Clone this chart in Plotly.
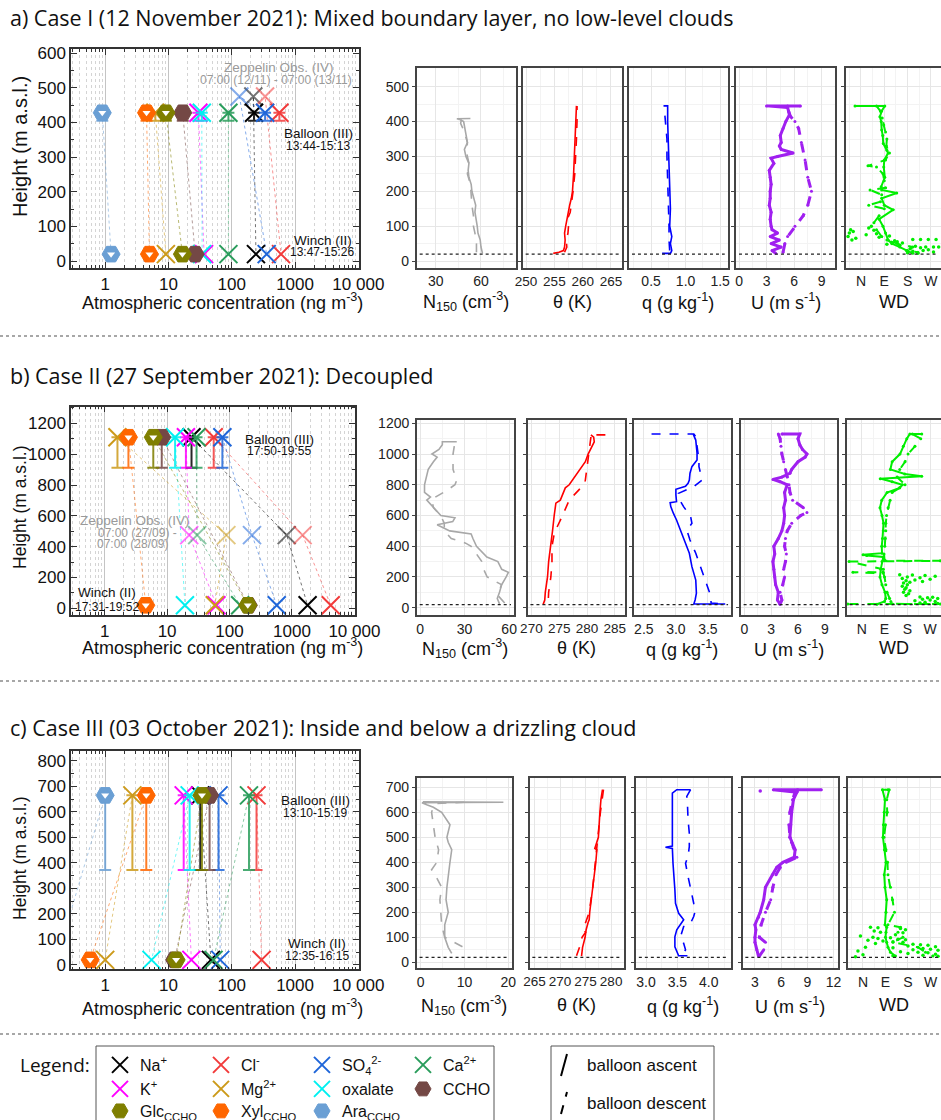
import plotly.graph_objects as go

FIG_W, FIG_H = 941, 1120
SANS = "Liberation Sans, Arial, sans-serif"
HEAD = "Open Sans, sans-serif"


def fx(p):
    return p / FIG_W


def fy(p):
    return 1 - p / FIG_H


def rgba(hex_color, a):
    h = hex_color.lstrip("#")
    r, g, b = int(h[0:2], 16), int(h[2:4], 16), int(h[4:6], 16)
    return f"rgba({r},{g},{b},{a})"


# ---------------- aerosol species ----------------
species = ["Na", "Cl", "SO4", "Ca", "K", "Mg", "oxalate", "CCHO", "Glc", "Xyl", "Ara"]
species_label = ["Na<sup>+</sup>", "Cl<sup>-</sup>", "SO<sub>4</sub><sup>2-</sup>", "Ca<sup>2+</sup>",
                 "K<sup>+</sup>", "Mg<sup>2+</sup>", "oxalate", "CCHO",
                 "Glc<sub>CCHO</sub>", "Xyl<sub>CCHO</sub>", "Ara<sub>CCHO</sub>"]
species_color = ["#000000", "#f23b3b", "#1f66d9", "#2a9d5c", "#ff00ff", "#cc9a1a",
                 "#00f0f0", "#744845", "#7f7f00", "#ff6600", "#6a9fd4"]
species_shape = ["x", "x", "x", "x", "x", "x", "x", "hex", "cup", "cup", "cup"]
legend_slot = ["legend", "legend", "legend", "legend", "legend2", "legend2", "legend2", "legend2",
               "legend3", "legend3", "legend3"]

# ---------------- concentrations (ng m-3), same order as species ----------------
case1_balloon = [225, 565, 336, 88.5, 29.7, 6.2, 33.6, 16.8, 9.1, 4.5, 0.9]
case1_winch = [241, 600, 356, 88.5, 36.5, 9.1, 34, 26.4, 16.6, 5.0, 1.24]
case1_zeppelin = [219, 336, 132, None, None, None, None, None, None, None, None]

case2_balloon = [24.6, 55.8, 76.8, 29.6, 20, 1.6, 13.4, 8.2, 6.0, 2.4, None]
case2_winch = [1780, 4180, 570, 148, 61.6, 58, 19.3, 200, 196, 4.55, None]
case2_zeppelin = [824, 1480, 229, 30.3, 22.6, 89, None, None, None, None, None]

case3_balloon = [31.8, 246, 61.8, 187, 17.4, 2.69, 21.6, 44.6, 33.8, 4.46, 1.0]
case3_winch = [46.8, 296, 65.7, 51.5, 23, 1.0, 5.4, 12.5, 13.2, 0.58, 0.17]
case3_zeppelin = [None] * 11

# sampling altitudes (m a.s.l.)
balloon_alt = [428, 1110, 665]
balloon_alt_low = [405, 912, 372]
zeppelin_alt = [475, 475, None]
winch_alt = 20

# ---------------- Case I profiles ----------------
n150_a_up_z = [22, 40, 60, 80, 100, 120, 140, 160, 180, 200, 220, 240, 260, 280, 300, 320, 340, 360, 380, 400, 406, 408, 409]
n150_a_up = [61, 60, 59.5, 58, 57.5, 57, 56, 56.5, 55, 54, 53.5, 52, 51.5, 52, 50, 49, 51, 50, 49.5, 48.5, 46, 44, 53]
n150_a_dn_z = [25, 50, 80, 100, 130, 160, 190, 220, 250, 280, 310, 340, 370, 395, 405]
n150_a_dn = [57, 57, 56, 55, 55, 54, 53.5, 53, 51, 52, 50.5, 51, 49, 46.5, 47]

theta_a_up_z = [22, 25, 30, 40, 60, 80, 100, 120, 140, 160, 180, 200, 250, 300, 350, 400, 445]
theta_a_up = [254.8, 255.8, 256.6, 256.8, 256.9, 256.8, 257.0, 257.2, 257.4, 257.7, 258.0, 258.2, 258.4, 258.5, 258.6, 258.7, 258.9]
theta_a_dn_z = [25, 40, 60, 80, 100, 120, 140, 160, 180, 200, 250, 300, 350, 400, 445]
theta_a_dn = [256.8, 257.2, 257.1, 257.4, 257.5, 257.3, 257.8, 258.0, 258.1, 258.3, 258.6, 258.8, 258.9, 259.0, 259.0]

q_a_up_z = [22, 22, 30, 50, 70, 100, 150, 200, 250, 300, 350, 400, 440, 445, 445]
q_a_up = [0.66, 0.78, 0.80, 0.78, 0.80, 0.77, 0.78, 0.77, 0.77, 0.76, 0.75, 0.74, 0.74, 0.74, 0.68]
q_a_dn_z = [30, 60, 100, 150, 200, 250, 300, 350, 400, 440]
q_a_dn = [0.77, 0.76, 0.76, 0.75, 0.74, 0.74, 0.73, 0.73, 0.71, 0.69]

u_a_up_z = [22, 30, 40, 50, 60, 70, 80, 90, 100, 120, 140, 160, 180, 200, 220, 240, 260, 280, 295, 300, 310, 320, 330, 340, 360, 380, 400, 420, 440, 445, 445]
u_a_up = [4.0, 3.6, 4.6, 3.5, 4.4, 3.4, 4.2, 3.6, 3.5, 3.4, 3.5, 3.3, 3.4, 3.4, 3.5, 3.4, 3.3, 3.8, 3.5, 4.2, 5.9, 4.6, 4.4, 4.6, 4.5, 4.8, 5.1, 5.5, 5.3, 3.0, 6.7]
u_a_dn_z = [25, 50, 70, 100, 130, 160, 200, 240, 290, 340, 380, 400, 415, 430, 445]
u_a_dn = [4.8, 5.0, 5.3, 6.1, 7.0, 7.5, 7.9, 7.5, 7.2, 6.8, 6.5, 6.1, 5.6, 5.4, 5.3]

wd_a_up_z = [22, 30, 40, 50, 60, 80, 100, 120, 147, 160, 180, 195, 204, 213, 240, 270, 290, 310, 318, 337, 360, 376, 400, 414, 430, 445, 445]
wd_a_up = [200, 175, 150, 120, 105, 95, 85, 70, 124, 90, 80, 138, 80, 78, 92, 88, 90, 105, 100, 86, 84, 80, 78, 73, 80, 92, -23]
wd_a_dn_z = [445, 430, 410, 390, 370, 350, 330, 310, 290, 273, 270, 250, 230, 210, 204, 190, 170, 160, 150, 130, 110, 90, 70, 60, 50, 40, 30, 25]
wd_a_dn = [60, 75, 82, 88, 95, 100, 98, 110, 95, 27, 60, 85, 90, 95, 35, 80, 75, 30, 90, 70, 50, 60, 80, 100, 140, 200, 180, 220]
wd_a_pts_z = [100, 95, 90, 88, 85, 80, 78, 75, 72, 70, 68, 65, 62, 62, 62, 62, 60, 58, 55, 52, 50, 48, 45, 42, 40, 40, 40, 38, 35, 32, 30, 28, 26, 24, 22]
wd_a_pts = [40, 30, -40, 50, -30, -45, 60, 20, 110, -50, 70, -20, 200, 230, 260, 290, -35, 130, 140, 160, 120, 100, 150, 210, 250, 280, 300, 230, 190, 260, 240, 200, 280, 180, 220]

# ---------------- Case II profiles ----------------
n150_b_up_z = [25, 60, 100, 150, 200, 230, 250, 300, 330, 350, 400, 450, 480, 500, 540, 560, 585, 600, 650, 700, 720, 750, 800, 850, 900, 950, 980, 1000, 1030, 1060, 1080, 1080]
n150_b_up = [53.5, 52, 53.5, 55, 58, 59.5, 55, 52.4, 45, 43, 38, 35.6, 34.4, 20, 11.5, 22, 23.5, 14, 9, 4.5, 7, 3, 3, 4.5, 5.5, 9, 11.5, 8, 12.7, 15, 15, 24.7]
n150_b_dn_z = [30, 80, 150, 200, 250, 300, 350, 400, 420, 450, 500, 550, 600, 650, 700, 720, 760, 800, 830, 900, 1000, 1080]
n150_b_dn = [57, 52.4, 54.8, 45.2, 42.8, 41.6, 38, 34.4, 30.7, 21, 16.3, 16.3, 13.9, 9.1, 7.8, 10.3, 17.5, 23.5, 24.7, 22.2, 22.2, 23.5]

theta_b_up_z = [20, 50, 100, 200, 300, 400, 500, 600, 680, 700, 760, 780, 800, 850, 900, 950, 1000, 1050, 1080, 1110, 1125]
theta_b_up = [272.1, 272.4, 272.5, 272.9, 273.1, 273.5, 273.8, 274.1, 274.4, 275.2, 275.9, 276.1, 276.8, 277.8, 278.7, 279.7, 280.2, 280.9, 281.3, 281.2, 280.7]
theta_b_dn_z = [1125, 1125, 1110, 1000, 900, 830, 800, 750, 700, 600, 550, 500, 480, 400, 300, 200, 100, 25]
theta_b_dn = [283.3, 280.5, 280.7, 280.3, 279.9, 279.7, 279.4, 278.1, 276.8, 275.6, 274.9, 274.3, 274.1, 273.7, 273.7, 273.5, 273.1, 273.0]

q_b_up_z = [24, 24, 50, 94, 180, 267, 354, 397, 462, 527, 571, 615, 658, 684, 690, 734, 771, 790, 810, 831, 875, 918, 961, 1005, 1048, 1091, 1130]
q_b_up = [3.77, 3.28, 3.30, 3.32, 3.31, 3.25, 3.21, 3.17, 3.12, 3.06, 3.01, 2.96, 2.92, 2.91, 3.01, 3.0, 3.0, 3.15, 3.19, 3.21, 3.22, 3.25, 3.33, 3.33, 3.32, 3.31, 3.27]
q_b_dn_z = [1130, 1130, 1113, 1048, 961, 918, 875, 831, 788, 744, 701, 658, 593, 549, 505, 440, 354, 267, 180, 82, 30, 24]
q_b_dn = [2.62, 3.28, 3.31, 3.33, 3.36, 3.36, 3.38, 3.41, 3.28, 3.04, 3.06, 3.12, 3.23, 3.25, 3.17, 3.22, 3.31, 3.38, 3.46, 3.54, 3.55, 3.77]

u_b_up_z = [22, 50, 100, 150, 200, 250, 300, 350, 400, 450, 500, 550, 600, 650, 700, 750, 800, 820, 835, 850, 875, 900, 950, 980, 1000, 1030, 1060, 1100, 1130, 1130]
u_b_up = [4.0, 3.7, 3.8, 3.5, 3.4, 3.3, 3.2, 3.4, 3.3, 3.8, 4.2, 4.4, 4.5, 4.4, 4.6, 4.5, 4.8, 4.0, 3.2, 4.2, 5.1, 5.3, 6.0, 6.8, 7.0, 6.5, 6.2, 6.0, 6.2, 4.2]
u_b_dn_z = [1130, 1100, 1050, 1000, 950, 900, 850, 800, 750, 700, 650, 620, 600, 550, 500, 450, 400, 350, 300, 250, 200, 150, 100, 50, 22]
u_b_dn = [3.8, 4.0, 4.1, 4.2, 4.4, 4.6, 4.8, 5.0, 5.1, 5.4, 6.6, 7.0, 6.3, 5.3, 4.8, 4.6, 4.5, 4.7, 4.6, 4.4, 4.5, 4.3, 4.0, 4.2, 4.0]

wd_b_up_z = [22, 40, 60, 100, 150, 200, 250, 300, 330, 340, 345, 355, 400, 450, 500, 550, 600, 650, 700, 750, 780, 800, 820, 840, 855, 870, 900, 950, 1000, 1050, 1100, 1130, 1130]
wd_b_up = [60, 90, 95, 92, 80, 72, 75, 80, 85, 20, 5, 80, 79, 82, 85, 86, 80, 72, 79, 100, 150, 160, 120, 73, 237, 170, 113, 120, 151, 164, 178, 190, 237]
wd_b_dn_z = [1130, 1100, 1050, 1000, 950, 900, 850, 800, 780, 750, 700, 650, 600, 550, 500, 450, 400, 350, 310, 305, 305, 300, 250, 232, 230, 230, 225, 200, 150, 100, 60, 40, 25, 24, 24]
wd_b_dn = [200, 233, 210, 183, 171, 150, 140, 171, 150, 120, 112, 104, 98, 95, 95, 93, 91, 88, 90, 90, 310, -50, 85, 84, 84, -35, 85, 90, 95, 100, 110, 115, 120, 310, -55]
wd_b_pts_z = [215, 212, 210, 205, 200, 195, 190, 185, 180, 175, 170, 165, 160, 150, 140, 130, 120, 110, 100, 90, 80, 70, 68, 65, 60, 55, 50, 45, 40, 35, 30, 28]
wd_b_pts = [150, 200, 250, 290, 180, 230, 160, 270, 210, 175, 240, 190, 165, 180, 160, 175, 170, 190, 165, 185, 175, 230, 280, 260, 300, 240, 270, 210, 290, 250, 230, 300]

# ---------------- Case III profiles ----------------
n150_c_up_z = [36, 60, 100, 150, 200, 250, 300, 350, 400, 450, 480, 500, 550, 600, 620, 630, 638, 640, 642]
n150_c_up = [7.1, 6.3, 5.5, 5.5, 6.3, 5.8, 6.0, 6.3, 6.7, 7.1, 6.3, 6.0, 6.7, 4.8, 2.9, 1.4, 0.3, 18.9, 0.5]
n150_c_dn_z = [640, 635, 620, 600, 550, 500, 450, 400, 370, 350, 300, 250, 200, 150, 100, 93, 58]
n150_c_dn = [10, 3.7, 2.9, 2.5, 2.9, 3.3, 4.1, 3.7, 2.5, 3.3, 4.8, 4.4, 4.6, 4.8, 5.5, 6.3, 10.0]

theta_c_up_z = [25, 60, 100, 130, 160, 170, 200, 250, 300, 350, 400, 450, 455, 500, 550, 600, 650, 690]
theta_c_up = [274.2, 274.4, 274.9, 275.1, 275.5, 275.7, 275.8, 276.1, 276.5, 276.7, 277.0, 277.2, 276.8, 277.5, 277.6, 277.8, 278.0, 278.3]
theta_c_dn_z = [690, 650, 600, 500, 400, 300, 200, 130, 120, 100, 60, 25]
theta_c_dn = [278.5, 278.2, 277.9, 277.4, 276.9, 276.4, 275.7, 274.5, 275.0, 274.3, 273.8, 273.2]

q_c_up_z = [26, 26, 62, 102, 130, 170, 196, 236, 290, 343, 396, 455, 460, 465, 516, 583, 636, 676, 690, 690]
q_c_up = [3.66, 3.52, 3.46, 3.46, 3.49, 3.60, 3.52, 3.47, 3.46, 3.44, 3.43, 3.42, 3.31, 3.42, 3.42, 3.42, 3.41, 3.42, 3.49, 3.71]
q_c_dn_z = [690, 663, 636, 570, 516, 463, 423, 396, 343, 290, 236, 210, 183, 156, 143, 102, 76, 50, 30]
q_c_dn = [3.71, 3.65, 3.66, 3.67, 3.69, 3.69, 3.67, 3.63, 3.67, 3.71, 3.76, 3.79, 3.76, 3.71, 3.6, 3.55, 3.6, 3.63, 3.58]

u_c_up_z = [25, 50, 80, 100, 130, 150, 180, 200, 250, 300, 350, 380, 400, 420, 450, 480, 500, 550, 600, 650, 680, 690, 690]
u_c_up = [3.4, 3.2, 3.0, 3.0, 3.1, 3.0, 3.4, 3.6, 4.0, 4.2, 5.0, 5.5, 6.2, 7.5, 7.6, 7.2, 7.0, 7.1, 7.2, 7.4, 7.8, 5.1, 10.6]
u_c_dn_z = [690, 680, 650, 600, 550, 500, 460, 420, 400, 380, 350, 300, 250, 200, 150, 100, 80, 50, 25]
u_c_dn = [7.9, 7.6, 7.3, 7.0, 6.9, 7.0, 7.4, 7.8, 6.6, 5.9, 5.4, 5.05, 4.8, 4.2, 3.7, 3.5, 4.2, 4.0, 3.5]
u_c_pts_z = [685]
u_c_pts = [3.6]

wd_c_up_z = [25, 40, 60, 80, 100, 120, 140, 150, 200, 250, 300, 350, 400, 450, 500, 550, 600, 650, 690, 690]
wd_c_up = [130, 110, 100, 95, 90, 92, 95, 88, 92, 95, 88, 85, 92, 86, 80, 82, 85, 88, 78, 100]
wd_c_dn_z = [690, 650, 600, 550, 500, 450, 400, 350, 300, 250, 200, 150, 140, 120, 100, 80, 60, 40, 25]
wd_c_dn = [105, 95, 97, 90, 84, 92, 98, 100, 110, 118, 126, 100, 150, 140, 160, 120, 220, 250, 280]
wd_c_pts_z = [140, 138, 135, 130, 125, 120, 118, 110, 105, 100, 98, 95, 92, 90, 88, 85, 82, 80, 75, 72, 70, 68, 65, 62, 60, 58, 55, 52, 50, 48, 45, 42, 40, 38, 35, 32, 30, 28, 26, 24, 22]
wd_c_pts = [30, 60, 150, 170, 45, 70, 160, 130, -10, 40, 110, 60, 140, 170, 20, 80, 120, 160, 50, 200, 230, 260, 180, 290, 10, 120, 240, 270, 200, 300, -20, 150, 220, 260, 180, 290, 0, 240, 120, 300, -30]

fig = go.Figure()
layout = {}


# ---------------- concentration panels ----------------
def conc_panel(ax, balloon, winch, zeppelin, row):
    xa, ya = ("x", "y") if ax == 1 else (f"x{ax}", f"y{ax}")
    hb, hl, hz = balloon_alt[row], balloon_alt_low[row], zeppelin_alt[row]
    # dotted links balloon -> zeppelin -> winch
    for i, c in enumerate(species_color):
        xs, ys = [], []
        if balloon[i] is not None:
            xs.append(balloon[i]); ys.append(hb)
        if zeppelin[i] is not None:
            xs.append(zeppelin[i]); ys.append(hz)
        if winch[i] is not None:
            xs.append(winch[i]); ys.append(winch_alt)
        if len(xs) > 1:
            fig.add_trace(go.Scatter(x=xs, y=ys, mode="lines", xaxis=xa, yaxis=ya,
                                     line=dict(color=rgba(c, 0.55), width=1, dash="dot"),
                                     showlegend=False, hoverinfo="skip"))

    def mk(i, alpha):
        c = rgba(species_color[i], alpha)
        if species_shape[i] == "x":
            return dict(symbol="x-thin", size=18, line=dict(width=2, color=c))
        return dict(symbol="hexagon2", size=18, color=c, line=dict(width=1, color=c))

    notch = dict(symbol="triangle-down", size=7, color="white")

    for i in range(len(species)):
        if zeppelin[i] is not None:
            fig.add_trace(go.Scatter(x=[zeppelin[i]], y=[hz], mode="markers", xaxis=xa, yaxis=ya,
                                     marker=mk(i, 0.55), showlegend=False, hoverinfo="skip"))
    for i in range(len(species)):
        if winch[i] is not None:
            fig.add_trace(go.Scatter(x=[winch[i]], y=[winch_alt], mode="markers", xaxis=xa, yaxis=ya,
                                     marker=mk(i, 1), showlegend=False, hoverinfo="skip"))
            if species_shape[i] == "cup":
                fig.add_trace(go.Scatter(x=[winch[i]], y=[winch_alt], mode="markers", xaxis=xa, yaxis=ya,
                                         marker=notch, showlegend=False, hoverinfo="skip"))
    for i in range(len(species)):
        if balloon[i] is None:
            continue
        c = species_color[i]
        fig.add_trace(go.Scatter(
            x=[balloon[i]], y=[hb], mode="markers", xaxis=xa, yaxis=ya,
            marker=mk(i, 1), name=species_label[i],
            error_y=dict(type="data", symmetric=False, array=[0], arrayminus=[hb - hl],
                         color=rgba(c, 0.85), thickness=2, width=6),
            showlegend=(row == 0), legend=legend_slot[i], hoverinfo="skip"))
        if species_shape[i] == "cup":
            fig.add_trace(go.Scatter(x=[balloon[i]], y=[hb], mode="markers", xaxis=xa, yaxis=ya,
                                     marker=notch, showlegend=False, hoverinfo="skip"))


def conc_axes(ax, xdom, ydom, yrange, ydtick, yminor, yfont):
    xk, yk = ("xaxis", "yaxis") if ax == 1 else (f"xaxis{ax}", f"yaxis{ax}")
    anchor_x, anchor_y = ("y", "x") if ax == 1 else (f"y{ax}", f"x{ax}")
    layout[xk] = dict(type="log", domain=[fx(xdom[0]), fx(xdom[1])], range=[-0.54, 4.01], anchor=anchor_x,
                      dtick=1, tick0=0, exponentformat="none", tickangle=0,
                      ticks="inside", ticklen=6, tickcolor="#333", showline=True, linecolor="#333",
                      linewidth=1.5, mirror="allticks", showgrid=True, gridcolor="#c4c4c4", gridwidth=1.2,
                      zeroline=False,
                      minor=dict(dtick="D1", ticks="inside", ticklen=3, tickcolor="#333", showgrid=True,
                                 gridcolor="#d4d4d4", griddash="dot", gridwidth=1),
                      tickfont=dict(family=SANS, size=17, color="#111"))
    layout[yk] = dict(domain=[fy(ydom[1]), fy(ydom[0])], range=yrange, anchor=anchor_y, dtick=ydtick,
                      ticks="inside", ticklen=6, tickcolor="#333", showline=True, linecolor="#333",
                      linewidth=1.5, mirror="allticks", showgrid=False, zeroline=False,
                      minor=dict(dtick=yminor, ticks="inside", ticklen=3, tickcolor="#333"),
                      tickfont=dict(family=SANS, size=yfont, color="#111"))


# ---------------- profile panels ----------------
def profile(ax, up_x, up_z, dn_x, dn_z, color, width, marker_size=0, dots=None):
    xa, ya = f"x{ax}", f"y{ax}"
    mode = "lines+markers" if marker_size else "lines"
    fig.add_trace(go.Scatter(x=dn_x, y=dn_z, mode=mode, xaxis=xa, yaxis=ya,
                             line=dict(color=color, width=width, dash="dash"),
                             marker=dict(color=color, size=marker_size),
                             showlegend=False, hoverinfo="skip"))
    fig.add_trace(go.Scatter(x=up_x, y=up_z, mode=mode, xaxis=xa, yaxis=ya,
                             line=dict(color=color, width=width),
                             marker=dict(color=color, size=marker_size),
                             showlegend=False, hoverinfo="skip"))
    if dots is not None:
        fig.add_trace(go.Scatter(x=dots[0], y=dots[1], mode="markers", xaxis=xa, yaxis=ya,
                                 marker=dict(color=color, size=3.5),
                                 showlegend=False, hoverinfo="skip"))


def profile_axes(ax, xdom, ydom, xrange, yrange, xtick, ydtick, first, last, xfont, xfmt):
    xk, yk = f"xaxis{ax}", f"yaxis{ax}"
    xa = dict(domain=[fx(xdom[0]), fx(xdom[1])], range=xrange, anchor=f"y{ax}", tickangle=0,
              showline=True, linecolor="#444", linewidth=1.5, mirror=True, ticks="",
              showgrid=True, gridcolor="#e6e6e6", gridwidth=1, zeroline=False,
              tickfont=dict(family=SANS, size=xfont, color="#222"))
    if xtick == "wd":
        xa.update(tickmode="array", tickvals=[0, 90, 180, 270], ticktext=["N", "E", "S", "W"],
                  minor=dict(tickmode="array", tickvals=[-45, 45, 135, 225, 315], showgrid=True,
                             gridcolor="#f3f3f3"))
    else:
        xa.update(dtick=xtick, tick0=0, tickformat=xfmt,
                  minor=dict(dtick=xtick / 2, showgrid=True, gridcolor="#f3f3f3"))
    layout[xk] = xa
    layout[yk] = dict(domain=[fy(ydom[1]), fy(ydom[0])], range=yrange, anchor=f"x{ax}", dtick=ydtick,
                      showline=True, linecolor="#444", linewidth=1.5, mirror=not last,
                      ticks="outside", ticklen=3, tickcolor="#444", showticklabels=first,
                      showgrid=True, gridcolor="#e6e6e6", gridwidth=1, zeroline=False,
                      minor=dict(dtick=ydtick / 2, showgrid=True, gridcolor="#f3f3f3"),
                      tickfont=dict(family=SANS, size=14, color="#222"))


shapes = []
annotations = []


def note(text, x, y, size, color="#111", xanchor="center", family=SANS, angle=0):
    annotations.append(dict(text=text, x=fx(x), y=fy(y), xref="paper", yref="paper", showarrow=False,
                            xanchor=xanchor, yanchor="middle", textangle=angle,
                            font=dict(family=family, size=size, color=color)))


profile_titles = ["N<sub>150</sub> (cm<sup>-3</sup>)", "\u03b8 (K)", "q (g kg<sup>-1</sup>)",
                  "U (m s<sup>-1</sup>)", "WD"]
profile_tickformat = ["", "", ".1f", "", ""]

rows = [
    dict(ax0=1, left_x=(71, 359), left_y=(49, 268), left_yr=[-20, 612], ldt=100, lmin=50,
         px=[(416.7, 516), (522.7, 621.7), (629, 727.7), (736, 835.3), (845.7, 941)], py=(68.3, 267.7),
         pyr=[-19.2, 552.8], pdt=100,
         pxr=[[17.4, 83.2], [249.4, 266.9], [0.18, 1.61], [-0.33, 10.5], [-59, 309]],
         pxt=[30, 5, 0.5, 3, "wd"], title_y=302, conc_title_y=300,
         data=(case1_balloon, case1_winch, case1_zeppelin),
         prof=[(n150_a_up, n150_a_up_z, n150_a_dn, n150_a_dn_z, None),
               (theta_a_up, theta_a_up_z, theta_a_dn, theta_a_dn_z, None),
               (q_a_up, q_a_up_z, q_a_dn, q_a_dn_z, None),
               (u_a_up, u_a_up_z, u_a_dn, u_a_dn_z, None),
               (wd_a_up, wd_a_up_z, wd_a_dn, wd_a_dn_z, (wd_a_pts, wd_a_pts_z))]),
    dict(ax0=7, left_x=(71, 355), left_y=(406.7, 615), left_yr=[-43, 1308], ldt=200, lmin=100,
         px=[(416.8, 513.9), (527.5, 625.4), (633.6, 731), (740.7, 837.4), (846.8, 941)], py=(420, 615.3),
         pyr=[-49.5, 1221.6], pdt=200,
         pxr=[[-2.2, 63.2], [269.3, 286.9], [2.34, 3.86], [-0.4, 10.4], [-59, 313]],
         pxt=[30, 5, 0.5, 3, "wd"], title_y=648, conc_title_y=645,
         data=(case2_balloon, case2_winch, case2_zeppelin),
         prof=[(n150_b_up, n150_b_up_z, n150_b_dn, n150_b_dn_z, None),
               (theta_b_up, theta_b_up_z, theta_b_dn, theta_b_dn_z, None),
               (q_b_up, q_b_up_z, q_b_dn, q_b_dn_z, None),
               (u_b_up, u_b_up_z, u_b_dn, u_b_dn_z, None),
               (wd_b_up, wd_b_up_z, wd_b_dn, wd_b_dn_z, (wd_b_pts, wd_b_pts_z))]),
    dict(ax0=13, left_x=(71, 359), left_y=(751, 969.3), left_yr=[-17, 839], ldt=100, lmin=50,
         px=[(416.7, 511.7), (529.5, 624.4), (636, 730.7), (742.5, 837.5), (848.2, 941)], py=(777.7, 968.3),
         pyr=[-24, 738], pdt=100,
         pxr=[[-0.9, 20.8], [264, 282.6], [2.84, 4.35], [1.57, 12.45], [-59, 312]],
         pxt=[10, 5, 0.5, 3, "wd"], title_y=1005, conc_title_y=1005,
         data=(case3_balloon, case3_winch, case3_zeppelin),
         prof=[(n150_c_up, n150_c_up_z, n150_c_dn, n150_c_dn_z, None),
               (theta_c_up, theta_c_up_z, theta_c_dn, theta_c_dn_z, None),
               (q_c_up, q_c_up_z, q_c_dn, q_c_dn_z, None),
               (u_c_up, u_c_up_z, u_c_dn, u_c_dn_z, (u_c_pts, u_c_pts_z)),
               (wd_c_up, wd_c_up_z, wd_c_dn, wd_c_dn_z, (wd_c_pts, wd_c_pts_z))]),
]

profile_colors = ["#a8a8a8", "#ff0000", "#0000ff", "#a020f0", "#00ee00"]
profile_widths = [1.6, 1.6, 1.6, 3, 2]
profile_msize = [0, 0, 0, 3, 3]

for r, row in enumerate(rows):
    ax0 = row["ax0"]
    conc_axes(ax0, row["left_x"], row["left_y"], row["left_yr"], row["ldt"], row["lmin"], 17)
    conc_panel(ax0, *row["data"], r)
    for k in range(5):
        ax = ax0 + 1 + k
        profile_axes(ax, row["px"][k], row["py"], row["pxr"][k], row["pyr"], row["pxt"][k], row["pdt"],
                     k == 0, k == 4, 13.5 if k == 1 else 14, profile_tickformat[k])
        up_x, up_z, dn_x, dn_z, dots = row["prof"][k]
        profile(ax, up_x, up_z, dn_x, dn_z, profile_colors[k], profile_widths[k], profile_msize[k],
                dots)
        shapes.append(dict(type="line", xref=f"x{ax} domain", yref=f"y{ax}", x0=0.03, x1=0.97,
                           y0=winch_alt, y1=winch_alt, line=dict(color="#222", width=1.2, dash="dot")))
        xc = (row["px"][k][0] + min(row["px"][k][1], 941)) / 2
        if k == 4:
            xc = 894
        note(profile_titles[k], xc, row["title_y"], 18)
    note("Atmospheric concentration (ng m<sup>-3</sup>)", 222, row["conc_title_y"] + 2, 18)

# y titles of the concentration panels
note("Height (m a.s.l.)", 20, 147, 20, angle=-90)
note("Height (m a.s.l.)", 20, 507, 17.5, angle=-90)
note("Height (m a.s.l.)", 20, 858, 17.5, angle=-90)

# row headings
HEAD_SIZE = 21.5
note("a) Case I (12 November 2021): Mixed boundary layer, no low-level clouds", 8, 18, HEAD_SIZE,
     xanchor="left", family=HEAD)
note("b) Case II (27 September 2021): Decoupled", 8, 375, HEAD_SIZE, xanchor="left", family=HEAD)
note("c) Case III (03 October 2021): Inside and below a drizzling cloud", 8, 727, HEAD_SIZE,
     xanchor="left", family=HEAD)

# platform labels inside the concentration panels
GREY = "#9a9a9a"
note("Zeppelin Obs. (IV)", 279, 67, 13.5, GREY)
note("07:00 (12/11) - 07:00 (13/11)", 276, 80, 12, GREY)
note("Balloon (III)", 318, 133, 13.5)
note("13:44-15:13", 318, 146, 12)
note("Winch (II)", 323, 240, 13.5)
note("13:47-15:26", 322, 252, 12)

note("Balloon (III)", 279, 439, 13.5)
note("17:50-19:55", 279, 451, 12)
note("Zeppelin Obs. (IV)", 135, 520, 13.5, GREY)
note("07:00 (27/09) -", 137, 533, 12, GREY)
note("07:00 (28/09)", 132, 544, 12, GREY)
note("Winch (II)", 107, 592, 13.5)
note("17:31-19:52", 107, 607, 12)

note("Balloon (III)", 315, 800, 13.5)
note("13:10-15:19", 315, 813, 12)
note("Winch (II)", 317, 943, 13.5)
note("12:35-16:15", 317, 956, 12)

# dashed separators between cases
for ysep in (336, 681, 1034):
    shapes.append(dict(type="line", xref="paper", yref="paper", x0=0, x1=1, y0=fy(ysep), y1=fy(ysep),
                       line=dict(color="#8a8a8a", width=1.3, dash="3px,3px")))

# legend frames and sampling-direction key
note("Legend:", 18, 1065, 19, xanchor="left", family=HEAD)
shapes.append(dict(type="rect", xref="paper", yref="paper", x0=fx(96), x1=fx(494), y0=fy(1046), y1=fy(1135),
                   line=dict(color="#555", width=1)))
shapes.append(dict(type="rect", xref="paper", yref="paper", x0=fx(551), x1=fx(714), y0=fy(1046), y1=fy(1135),
                   line=dict(color="#555", width=1)))
shapes.append(dict(type="line", xref="paper", yref="paper", x0=fx(561), x1=fx(567), y0=fy(1076), y1=fy(1054),
                   line=dict(color="#000", width=2)))
shapes.append(dict(type="line", xref="paper", yref="paper", x0=fx(561), x1=fx(567), y0=fy(1114), y1=fy(1092),
                   line=dict(color="#000", width=2, dash="dash")))
note("balloon ascent", 585, 1065, 17, xanchor="left")
note("balloon descent", 585, 1103, 17, xanchor="left")

legend_common = dict(xanchor="left", yanchor="middle", orientation="h", entrywidth=56,
                     entrywidthmode="pixels", font=dict(family=SANS, size=16, color="#111"),
                     bgcolor="rgba(0,0,0,0)", borderwidth=0, itemwidth=30, tracegroupgap=0)
layout["legend"] = dict(x=fx(100), y=fy(1065), **legend_common)
layout["legend2"] = dict(x=fx(100), y=fy(1089), **legend_common)
layout["legend3"] = dict(x=fx(100), y=fy(1111), **legend_common)

fig.update_layout(width=FIG_W, height=FIG_H, margin=dict(l=0, r=0, t=0, b=0, autoexpand=False),
                  paper_bgcolor="white", plot_bgcolor="white", separators=". ",
                  shapes=shapes, annotations=annotations, hovermode=False, **layout)

fig.write_html("out.html", config={"displayModeBar": False})
